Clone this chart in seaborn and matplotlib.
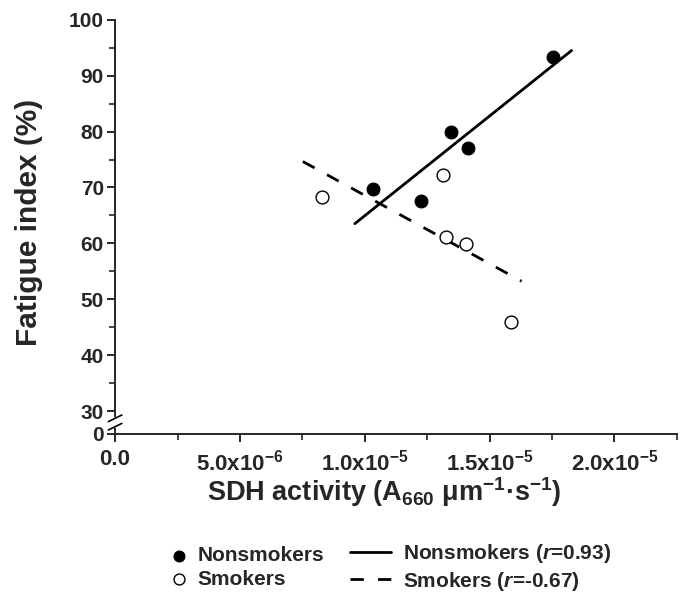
import numpy as np
import pandas as pd
import matplotlib
matplotlib.use('Agg')
import matplotlib.pyplot as plt
import seaborn as sns
from matplotlib.ticker import FixedLocator

# Data (x in A660 um^-1 s^-1, y in %)
nonsmoker_sdh = [1.032e-5, 1.224e-5, 1.344e-5, 1.412e-5, 1.752e-5]
nonsmoker_fatigue = [69.7, 67.6, 79.9, 77.1, 93.4]
smoker_sdh = [0.828e-5, 1.312e-5, 1.324e-5, 1.404e-5, 1.584e-5]
smoker_fatigue = [68.3, 72.2, 61.1, 59.9, 45.9]

# x-range spanned by each fitted line
nonsmoker_fit_range = [0.96e-5, 1.828e-5]
smoker_fit_range = [0.752e-5, 1.628e-5]

x_ticks = [0.0, 5e-6, 1e-5, 1.5e-5, 2e-5]
x_tick_labels = ['0.0', '5.0x10$^{-6}$', '1.0x10$^{-5}$', '1.5x10$^{-5}$', '2.0x10$^{-5}$']
y_ticks = [30, 40, 50, 60, 70, 80, 90, 100]
y_bottom = 25.9  # where the broken axis shows "0"

sns.set_style('ticks')
plt.rcParams['font.family'] = ['Liberation Sans', 'DejaVu Sans']
plt.rcParams['font.weight'] = 'bold'
plt.rcParams['mathtext.fontset'] = 'custom'
plt.rcParams['mathtext.rm'] = 'Liberation Sans:bold'
plt.rcParams['mathtext.bf'] = 'Liberation Sans:bold'
plt.rcParams['mathtext.it'] = 'Liberation Sans:italic:bold'
plt.rcParams['axes.linewidth'] = 1.4

fig = plt.figure(figsize=(6.81, 5.99), dpi=100)
ax = fig.add_axes([0.169, 0.2755, 0.825, 0.6915])

ns = pd.DataFrame({'sdh': nonsmoker_sdh, 'fatigue': nonsmoker_fatigue})
sm = pd.DataFrame({'sdh': smoker_sdh, 'fatigue': smoker_fatigue})

# Linear fits
ns_coef = np.polyfit(ns['sdh'], ns['fatigue'], 1)
sm_coef = np.polyfit(sm['sdh'], sm['fatigue'], 1)
ns_line = pd.DataFrame({'sdh': nonsmoker_fit_range})
ns_line['fatigue'] = np.polyval(ns_coef, ns_line['sdh'])
sm_line = pd.DataFrame({'sdh': smoker_fit_range})
sm_line['fatigue'] = np.polyval(sm_coef, sm_line['sdh'])

sns.lineplot(data=ns_line, x='sdh', y='fatigue', ax=ax, color='black', linewidth=2.0,
             label='Nonsmokers ($\\it{r}$=0.93)')
sns.lineplot(data=sm_line, x='sdh', y='fatigue', ax=ax, color='black', linewidth=2.0,
             linestyle=(0, (4.8, 5.1)), label='Smokers ($\\it{r}$=-0.67)')
sns.scatterplot(data=ns, x='sdh', y='fatigue', ax=ax, color='black', s=85,
                edgecolor='black', linewidth=0.8, label='Nonsmokers', zorder=3)
sns.scatterplot(data=sm, x='sdh', y='fatigue', ax=ax, facecolor='white', s=85,
                edgecolor='black', linewidth=1.0, label='Smokers', zorder=3)

ax.set_xlim(0, 2.25e-5)
ax.set_ylim(y_bottom, 100)
ax.set_xticks(x_ticks)
ax.set_xticklabels(x_tick_labels)
ax.set_yticks([y_bottom] + y_ticks)
ax.set_yticklabels(['0'] + [str(v) for v in y_ticks])
ax.xaxis.set_minor_locator(FixedLocator([2.5e-6, 7.5e-6, 1.25e-5, 1.75e-5, 2.25e-5]))
ax.yaxis.set_minor_locator(FixedLocator([35, 45, 55, 65, 75, 85, 95]))
ax.tick_params(which='major', length=6, width=1.4, direction='out')
ax.tick_params(which='minor', length=4, width=1.2, direction='out')
ax.tick_params(axis='y', which='major', labelsize=15, pad=2)
ax.tick_params(axis='x', which='major', labelsize=16, pad=5)
for lab in ax.get_xticklabels() + ax.get_yticklabels():
    lab.set_fontweight('bold')
sns.despine(ax=ax)

ax.set_xlabel('SDH activity (A$_{660}$ \u03bcm$^{-1}$\u00b7s$^{-1}$)', fontsize=19.5, fontweight='bold')
ax.set_ylabel('Fatigue index (%)', fontsize=21.5, fontweight='bold')
ax.xaxis.set_label_coords(0.479, -0.1)
ax.yaxis.set_label_coords(-0.128, 0.51)

# axis break marks on the y spine
yb1 = (27.2 - y_bottom) / (100 - y_bottom)
yb2 = (28.7 - y_bottom) / (100 - y_bottom)
ax.plot([0, 0], [yb1 + 0.002, yb2 - 0.002], transform=ax.transAxes, color='white',
        linewidth=3, clip_on=False, zorder=5)
for yb in (yb1, yb2):
    ax.plot([-0.012, 0.012], [yb - 0.008, yb + 0.008], transform=ax.transAxes,
            color='black', linewidth=1.2, clip_on=False, zorder=6)

# two legend columns below the plot
handles, labels = ax.get_legend_handles_labels()
ax.legend().remove()
leg_font = {'weight': 'bold', 'size': 15}
leg1 = fig.legend(handles[2:], labels[2:], loc='center left', bbox_to_anchor=(0.25, 0.0526),
                  frameon=False, prop=leg_font, handlelength=0.8, handletextpad=0.5,
                  labelspacing=0.2, borderpad=0, borderaxespad=0, markerscale=0.85)
leg2 = fig.legend(handles[:2], labels[:2], loc='center left', bbox_to_anchor=(0.514, 0.0526),
                  frameon=False, prop=leg_font, handlelength=1.95, handletextpad=0.58,
                  labelspacing=0.2, borderpad=0, borderaxespad=0)

fig.savefig('out.png', dpi=100)
